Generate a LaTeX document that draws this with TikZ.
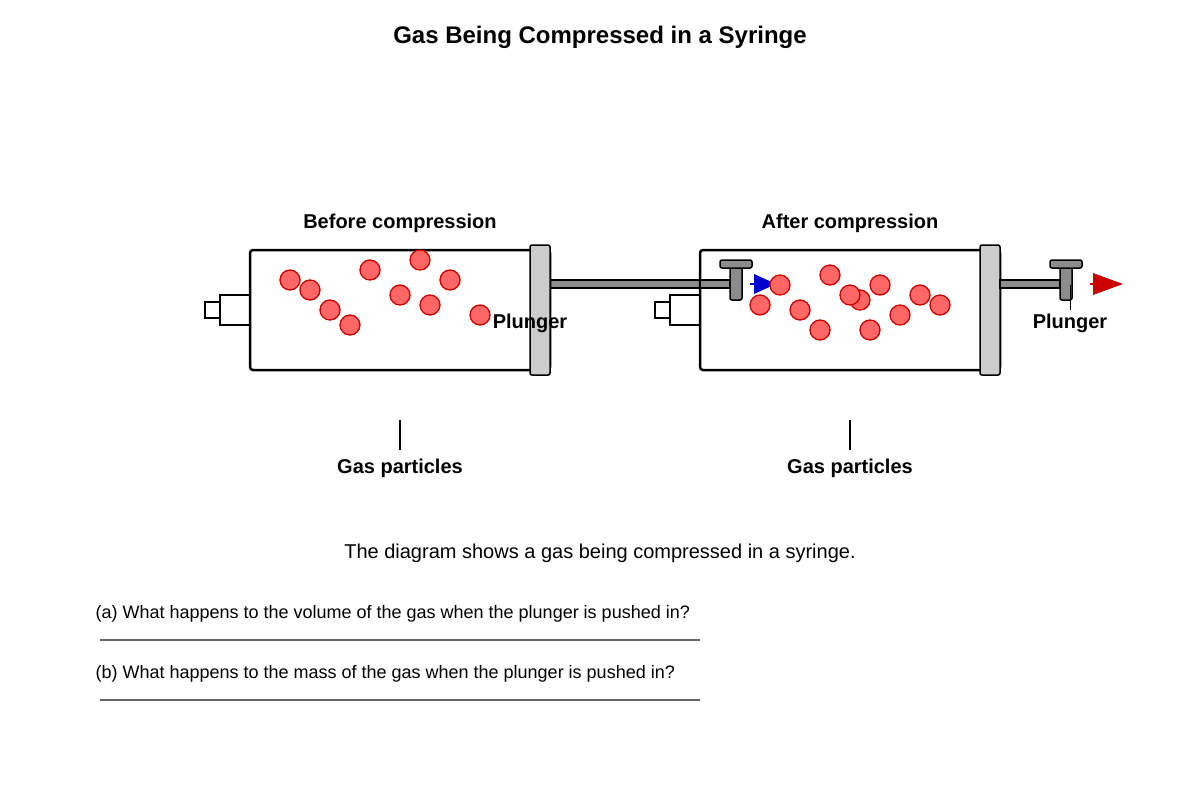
\documentclass[tikz,border=0pt]{standalone}
\usepackage{fontspec}
\setmainfont{Liberation Sans}
\begin{document}
\begin{tikzpicture}[x=1pt,y=-1pt,
  barrel/.style={draw=black,line width=2.5pt,rounded corners=3pt,fill=white},
  head/.style={draw=black,line width=1.5pt,rounded corners=2pt,fill=gray!40},
  rod/.style={draw=black,line width=1.2pt,fill=gray!90},
  tee/.style={draw=black,line width=1.5pt,rounded corners=2pt,fill=gray!90},
  nozzle/.style={draw=black,line width=2pt,fill=white},
  gas/.style={circle,draw={rgb,255:red,204;green,0;blue,0},line width=1.3pt,fill={rgb,255:red,255;green,102;blue,102},minimum size=20pt,inner sep=0pt},
  lab/.style={font=\bfseries\fontsize{20}{24}\selectfont},
  txt/.style={font=\fontsize{20}{24}\selectfont},
  q/.style={font=\fontsize{18}{22}\selectfont,anchor=west}]
\useasboundingbox (0,0) rectangle (1200,800);
\node[font=\bfseries\fontsize{24}{28}\selectfont] (title) at (600,37) {Gas Being Compressed in a Syringe};
% left syringe
\node[lab] (bl) at (400,223) {Before compression};
\path[rod] (550,280) rectangle (730,288);
\path[nozzle] (205,302) rectangle (220,318);
\path[nozzle] (220,295) rectangle (250,325);
\path[barrel] (250,250) rectangle (550,370);
\path[head] (530,245) rectangle (550,375);
\foreach \p [count=\i] in {(290,280),(310,290),(330,310),(350,325),(370,270),(400,295),(420,260),(430,305),(450,280),(480,315)}
  \node[gas] (a\i) at \p {};
\node[lab] (pl) at (530,323) {Plunger};
% right syringe
\node[lab] (br) at (850,223) {After compression};
\path[nozzle] (655,302) rectangle (670,318);
\path[nozzle] (670,295) rectangle (700,325);
\path[barrel] (700,250) rectangle (1000,370);
\path[head] (980,245) rectangle (1000,375);
\path[rod] (700,280) rectangle (730,288);
\path[tee] (730,267) rectangle (742,300);
\path[tee] (720,260) rectangle (752,268);
\coordinate (ba) at (750,284);
\coordinate (bb) at (776,284);
\draw[blue!80!black,line width=2pt] (ba) -- (756,284);
\fill[blue!80!black] (754,274) -- (776,284) -- (754,294) -- cycle;
\foreach \p [count=\i] in {(760,305),(780,285),(800,310),(820,330),(830,275),(860,300),(850,295),(870,330),(880,285),(900,315),(920,295),(940,305)}
  \node[gas] (b\i) at \p {};
\path[rod] (1000,280) rectangle (1060,288);
\path[tee] (1060,267) rectangle (1072,300);
\path[tee] (1050,260) rectangle (1082,268);
\coordinate (pt) at (1070,285);
\node[lab] (pr) at (1070,323) {Plunger};
\draw[line width=1pt] (pt) -- (1070,310);
\draw[red!80!black,line width=2pt] (1090,284) -- (1096,284);
\fill[red!80!black] (1093,273) -- (1123,284) -- (1093,295) -- cycle;
% labels
\node[lab] (gl) at (400,468) {Gas particles};
\node[lab] (gr) at (850,468) {Gas particles};
\coordinate (gl0) at (400,420);
\coordinate (gr0) at (850,420);
\draw[line width=1.2pt] (gl0) -- (400,450);
\draw[line width=1.2pt] (gr0) -- (850,450);
\node[txt] (d) at (600,553) {The diagram shows a gas being compressed in a syringe.};
\node[q] (qa) at (92,614) {(a) What happens to the volume of the gas when the plunger is pushed in?};
\node[q] (qb) at (92,674) {(b) What happens to the mass of the gas when the plunger is pushed in?};
\draw[gray!80!black,line width=1.5pt] (100,640) -- (700,640);
\draw[gray!80!black,line width=1.5pt] (100,700) -- (700,700);
\end{tikzpicture}
\end{document}
